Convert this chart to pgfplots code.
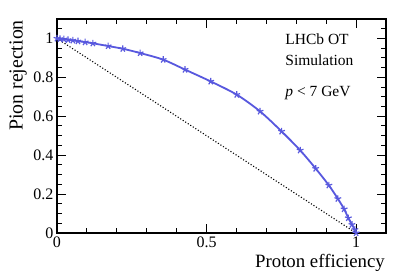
\documentclass[border=0pt]{standalone}
\usepackage{pgfplots}
\pgfplotsset{compat=1.18}
\usepackage{fontspec}
\setmainfont{Liberation Serif}
\definecolor{curveblue}{RGB}{88,88,222}
\begin{document}
\begin{tikzpicture}
\begin{axis}[name=ax, at={(0,0)}, anchor=south west,
  scale only axis, width=329pt, height=214pt,
  xmin=0, xmax=1.1, ymin=0, ymax=1.1,
  xtick={0,0.5,1}, ytick={0,0.2,0.4,0.6,0.8,1},
  minor xtick={0.1,0.2,0.3,0.4,0.6,0.7,0.8,0.9,1.1},
  minor ytick={0.05,0.1,0.15,0.25,0.3,0.35,0.45,0.5,0.55,0.65,0.7,0.75,0.85,0.9,0.95,1.05},
  tick align=inside, ticks=both,
  xtick pos=both, ytick pos=both,
  major tick length=9pt, minor tick length=5pt,
  axis line style={line width=1.3pt},
  every tick/.style={black, line width=1pt},
  /pgf/number format/assume math mode=true,
  tick label style={font=\fontsize{16}{18}\selectfont},
  xlabel={Proton efficiency}, ylabel={Pion rejection},
  xlabel style={font=\fontsize{18.8}{20}\selectfont, at={(rel axis cs:1,0)}, anchor=north east, yshift=-20pt, inner sep=1pt},
  ylabel style={font=\fontsize{19.8}{21}\selectfont, at={(rel axis cs:0,1)}, anchor=south east, yshift=29pt, inner sep=1pt},
  clip=false,
]
\addplot[black, line width=1.1pt, dash pattern=on 1.1pt off 1.9pt] coordinates {(0,1) (1,0)};
\addplot[curveblue, line width=1.8pt, smooth, mark=star, mark size=3.5pt,
  mark options={line width=1.2pt}] coordinates {
(0,1.0) (0.01,0.998) (0.023,0.996) (0.037,0.993) (0.053,0.99) (0.07,0.986)
(0.094,0.981) (0.12,0.975) (0.171,0.961) (0.22,0.947) (0.278,0.925)
(0.355,0.891) (0.428,0.84) (0.514,0.779) (0.601,0.711) (0.679,0.625)
(0.751,0.522) (0.813,0.425) (0.865,0.331) (0.909,0.245) (0.939,0.176)
(0.96,0.123) (0.974,0.077) (0.986,0.043) (0.996,0.017) (1.0,0.0)
};
\node[anchor=base west, font=\fontsize{15.5}{17}\selectfont, inner sep=0pt] at (axis cs:0.763,0.968) {LHCb OT};
\node[anchor=base west, font=\fontsize{15.5}{17}\selectfont, inner sep=0pt] at (axis cs:0.763,0.862) {Simulation};
\node[anchor=base west, font=\fontsize{15.5}{17}\selectfont, inner sep=0pt] at (axis cs:0.763,0.702) {\textit{p} < 7 GeV};
\end{axis}
\pgfresetboundingbox
\path[use as bounding box] (ax.south west) ++(-57pt,-45pt) rectangle ([xshift=21pt,yshift=19pt]ax.north east);
\end{tikzpicture}
\end{document}
